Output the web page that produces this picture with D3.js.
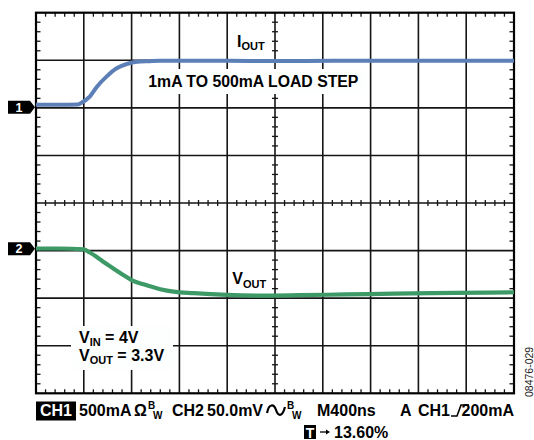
<!DOCTYPE html>
<html><head><meta charset="utf-8">
<script src="https://cdn.jsdelivr.net/npm/d3@7"></script>
<style>
html,body{margin:0;padding:0;background:#fff;}
svg{display:block;}
text{font-family:"Liberation Sans",Arial,sans-serif;font-weight:bold;}
</style>
</head><body>
<svg id="chart" width="534" height="440"></svg>
<script>
// ---- data ----
const timeIout = [0, 200, 350, 370, 450, 510, 590, 675, 760, 845, 950, 1040, 1200, 1600, 2000, 2500, 3000, 3500, 4000]; // ns
const ioutMA   = [32, 32, 34, 46, 118, 223, 328, 416, 461, 484, 490, 494, 495, 494, 493, 494, 494, 495, 494];      // mA
const timeVout = [0, 200, 400, 450, 500, 560, 650, 730, 800, 900, 1040, 1150, 1320, 1600, 1900, 2200, 2600, 3000, 3500, 4000]; // ns
const voutMV   = [2.2, 2.2, 1.2, -2, -6, -11.5, -19, -25.6, -31, -35.5, -40.6, -43.2, -44.8, -46.6, -47.3, -46.9, -46.1, -45.3, -44.5, -43.8]; // mV deviation
const timeDivs = d3.range(0, 4001, 400);      // 400 ns/div
const vertDivs = d3.range(-4, 5, 1);          // screen divisions
const ch1 = {name: "1", offsetDiv: 2, perDiv: 500};   // 500 mA/div
const ch2 = {name: "2", offsetDiv: -1, perDiv: 50};   // 50 mV/div
const bottomTexts = ["500mA", "Ω", "CH2", "50.0mV", "M400ns", "A", "CH1", "200mA"];

// ---- scales ----
const svg = d3.select("#chart");
const L = 36, R = 514, T = 12.7, B = 393.3;
const x = d3.scaleLinear().domain([0, 4000]).range([L, R]);
const y = d3.scaleLinear().domain([-4, 4]).range([B, T]);
const yCh = ch => v => y(ch.offsetDiv + v / ch.perDiv);
const gridColor = "#151515";

// ---- grid ----
const g = svg.append("g");
g.selectAll(".vg").data(timeDivs.slice(1, -1)).enter().append("line")
  .attr("x1", d => x(d)).attr("x2", d => x(d)).attr("y1", T).attr("y2", B)
  .attr("stroke", gridColor).attr("stroke-width", 1.6);
g.selectAll(".hg").data(vertDivs.slice(1, -1)).enter().append("line")
  .attr("x1", L).attr("x2", R).attr("y1", d => y(d)).attr("y2", d => y(d))
  .attr("stroke", gridColor).attr("stroke-width", 1.6);

const minorT = d3.range(0, 4001, 80).filter(t => t % 400 !== 0);
const minorV = d3.range(-20, 21).map(k => k / 5).filter(v => Math.abs(v - Math.round(v)) > 1e-6);
const tickSegs = [];
minorT.forEach(t => {
  tickSegs.push([x(t), T, x(t), T + 4]);
  tickSegs.push([x(t), B, x(t), B - 4]);
  tickSegs.push([x(t), y(0) - 3, x(t), y(0) + 3]);
});
minorV.forEach(v => {
  tickSegs.push([L, y(v), L + 4.5, y(v)]);
  tickSegs.push([R, y(v), R - 4.5, y(v)]);
  tickSegs.push([x(2000) - 3, y(v), x(2000) + 3, y(v)]);
});
g.selectAll(".mt").data(tickSegs).enter().append("line")
  .attr("x1", d => d[0]).attr("y1", d => d[1]).attr("x2", d => d[2]).attr("y2", d => d[3])
  .attr("stroke", gridColor).attr("stroke-width", 1.3);

g.append("rect").attr("x", L).attr("y", T).attr("width", R - L).attr("height", B - T)
  .attr("fill", "none").attr("stroke", "#000").attr("stroke-width", 2.2);

// label backgrounds
svg.append("rect").attr("x", 143).attr("y", 69).attr("width", 222).attr("height", 25).attr("fill", "#fdfefe");
svg.append("rect").attr("x", 71).attr("y", 326).attr("width", 102).attr("height", 44).attr("fill", "#fdfefe");

// ---- traces ----
const line1 = d3.line().x((d, i) => x(timeIout[i])).y(d => yCh(ch1)(d)).curve(d3.curveMonotoneX);
const line2 = d3.line().x((d, i) => x(timeVout[i])).y(d => yCh(ch2)(d)).curve(d3.curveMonotoneX);
svg.append("path").attr("d", line1(ioutMA)).attr("fill", "none").attr("stroke", "#5c7fb7").attr("stroke-width", 4).attr("stroke-linejoin", "round");
svg.append("path").attr("d", line2(voutMV)).attr("fill", "none").attr("stroke", "#3d9a66").attr("stroke-width", 4.2).attr("stroke-linejoin", "round");

// ---- channel markers ----
[ch1, ch2].forEach(ch => {
  const cy = yCh(ch)(0) - (ch === ch2 ? 1.8 : 0.5);
  svg.append("path").attr("d", `M8,${cy - 6.5}H30L35,${cy}L30,${cy + 6.5}H8Z`).attr("fill", "#000");
  svg.append("text").attr("x", 19).attr("y", cy + 4.5).attr("text-anchor", "middle")
    .attr("fill", "#fff").attr("font-size", 12.5).text(ch.name);
});

// ---- labels ----
function subLabel(px, py, main, sub, rest) {
  const t = svg.append("text").attr("x", px).attr("y", py).attr("font-size", 16).attr("fill", "#000");
  t.append("tspan").text(main);
  t.append("tspan").attr("font-size", 11).attr("dy", 3.5).text(sub);
  if (rest) t.append("tspan").attr("dy", -3.5).text(rest);
  return t;
}
subLabel(237, 46.7, "I", "OUT");
svg.append("text").attr("x", 148.3).attr("y", 87.3).attr("font-size", 15.8).attr("fill", "#000").text("1mA TO 500mA LOAD STEP");
subLabel(232.3, 284.3, "V", "OUT");
subLabel(79, 342.7, "V", "IN", " = 4V");
subLabel(79, 360.7, "V", "OUT", " = 3.3V");

// ---- bottom status line ----
const by = 416;
svg.append("rect").attr("x", 36).attr("y", 401.5).attr("width", 40).attr("height", 19).attr("fill", "#000");
svg.append("text").attr("x", 56).attr("y", by).attr("text-anchor", "middle").attr("font-size", 16).attr("fill", "#fff").text("CH1");
const bt = (px, s, fs, dy) => svg.append("text").attr("x", px).attr("y", by + (dy || 0)).attr("font-size", fs || 16).attr("fill", "#000").text(s);
bt(79, bottomTexts[0]);
bt(134, bottomTexts[1]);
bt(148, "B", 10, -7);
bt(153, "W", 10, 3);
bt(172, bottomTexts[2]);
bt(207, bottomTexts[3]);
svg.append("path").attr("d", `M267,${by - 3} C269,${by - 13} 274,${by - 12} 276,${by - 6} S282,${by + 2} 285,${by - 9}`)
  .attr("fill", "none").attr("stroke", "#000").attr("stroke-width", 2.2);
bt(287, "B", 10, -7);
bt(292, "W", 10, 3);
bt(317, bottomTexts[4]);
bt(400, bottomTexts[5]);
bt(418, bottomTexts[6]);
svg.append("path").attr("d", `M451,${by} H457 L461,${by - 11} H469`).attr("fill", "none").attr("stroke", "#000").attr("stroke-width", 1.6);
svg.append("text").attr("x", 514).attr("y", by).attr("text-anchor", "end").attr("font-size", 16).attr("fill", "#000").text(bottomTexts[7]);

// second line
svg.append("rect").attr("x", 304).attr("y", 425).attr("width", 12).attr("height", 14).attr("fill", "#000");
svg.append("text").attr("x", 310).attr("y", 437.5).attr("text-anchor", "middle").attr("font-size", 14).attr("fill", "#fff").text("T");
svg.append("path").attr("d", "M320,432 H327").attr("stroke", "#000").attr("stroke-width", 1.3);
svg.append("path").attr("d", "M326,429.5 L330,432 L326,434.5Z").attr("fill", "#000");
svg.append("text").attr("x", 334).attr("y", 438).attr("font-size", 16).attr("fill", "#000").text("13.60%");

// id code
svg.append("text").attr("transform", "translate(532.5,397) rotate(-90)").attr("font-size", 10.5)
  .style("font-weight", "normal").attr("fill", "#222").text("08476-029");
</script>
</body></html>
